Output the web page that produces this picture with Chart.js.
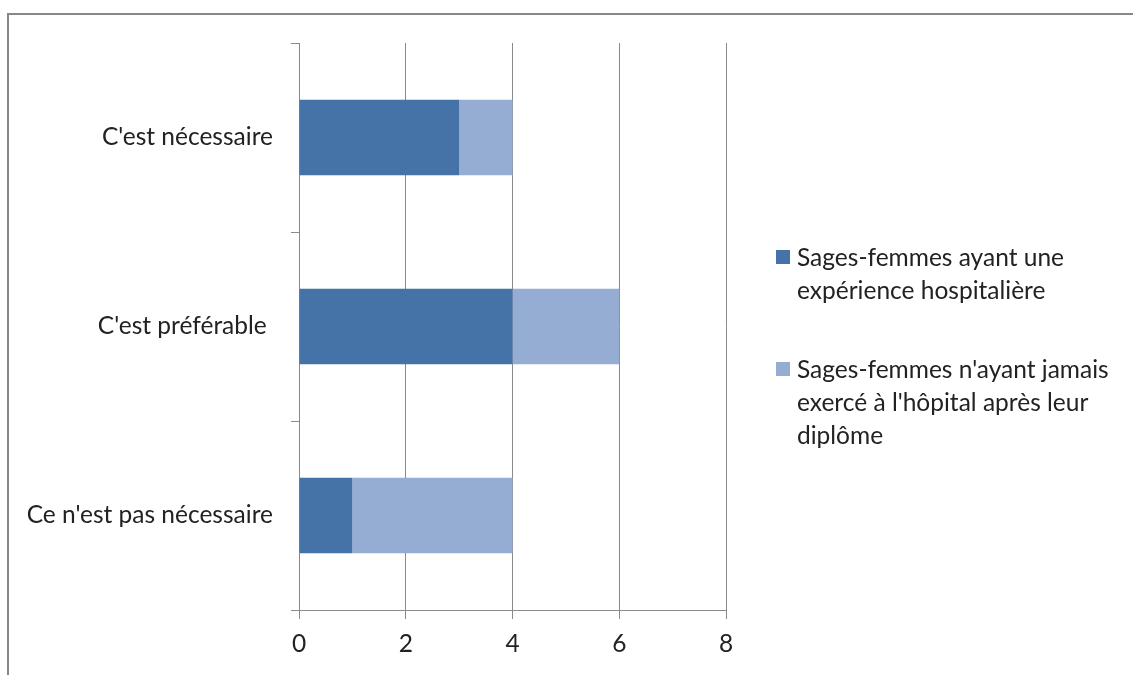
<!DOCTYPE html>
<html><head><meta charset="utf-8">
<script src="https://cdn.jsdelivr.net/npm/chart.js@4"></script>
<style>
html,body{margin:0;padding:0;background:#fff;}
#wrap{position:relative;width:1133px;height:675px;overflow:hidden;}
#frame{position:absolute;left:7px;top:13px;width:1200px;height:800px;border-top:2px solid #888;border-left:2px solid #888;}
canvas{position:absolute;left:0;top:0;}
#legend{position:absolute;left:776px;top:240px;font-family:Lato,sans-serif;font-size:24.5px;color:#222;line-height:33px;}
.item{position:relative;padding-left:21px;margin-bottom:46px;white-space:nowrap;}
.sw{position:absolute;left:0;top:10px;width:14px;height:14px;}
</style></head>
<body><div id="wrap"><div id="frame"></div><canvas id="c" width="1133" height="675"></canvas>
<div id="legend"></div></div>
<script>
const categories = ["C'est nécessaire", "C'est préférable ", "Ce n'est pas nécessaire"];
const seriesNames = [["Sages-femmes ayant une","expérience hospitalière"],["Sages-femmes n'ayant jamais","exercé à l'hôpital après leur","diplôme"]];
const hospital = [3, 4, 1];
const neverHospital = [1, 2, 3];
const xTicks = [0, 2, 4, 6, 8];
const colors = ['#4572A7', '#95ACD3'];

const font = {family: 'Lato, sans-serif', size: 24.5};
new Chart(document.getElementById('c'), {
  type: 'bar',
  data: {
    labels: categories,
    datasets: [
      {label: seriesNames[0].join(' '), data: hospital, backgroundColor: colors[0], categoryPercentage: 1, barPercentage: 0.4},
      {label: seriesNames[1].join(' '), data: neverHospital, backgroundColor: colors[1], categoryPercentage: 1, barPercentage: 0.4}
    ]
  },
  options: {
    indexAxis: 'y', responsive: false, animation: false,
    layout: {padding: {top: 43, right: 407, left: 0, bottom: 0}},
    plugins: {legend: {display: false}, tooltip: {enabled: false}},
    scales: {
      x: {
        stacked: true, min: 0, max: 8,
        afterBuildTicks: s => { s.ticks = xTicks.map(v => ({value: v})); },
        afterFit: s => { s.height = 65; },
        grid: {color: '#8a8a8a', lineWidth: 1, tickLength: 9, drawTicks: true},
        border: {color: '#8a8a8a'},
        ticks: {font: font, color: '#222', padding: 10, maxRotation: 0}
      },
      y: {
        stacked: true,
        afterFit: s => { s.width = 299; },
        grid: {drawOnChartArea: false, color: '#8a8a8a', tickLength: 8, offset: true},
        border: {color: '#8a8a8a'},
        ticks: {font: font, color: '#222', padding: 18}
      }
    }
  }
});

const leg = document.getElementById('legend');
seriesNames.forEach((lines, i) => {
  const d = document.createElement('div'); d.className = 'item';
  const sw = document.createElement('div'); sw.className = 'sw'; sw.style.background = colors[i];
  d.appendChild(sw);
  lines.forEach((t, k) => { if (k) d.appendChild(document.createElement('br')); d.appendChild(document.createTextNode(t)); });
  leg.appendChild(d);
});
</script></body></html>
